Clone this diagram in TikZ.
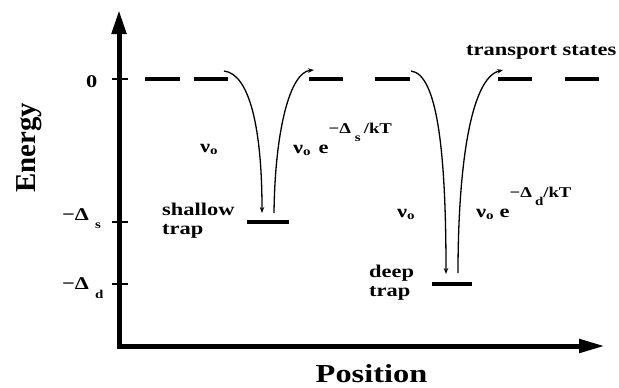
\documentclass[tikz,border=0pt]{standalone}
\usepackage{fontspec}
\setmainfont{Liberation Serif}[FakeStretch=1.25]
\newfontfamily\axisfont{Liberation Serif}
\usetikzlibrary{arrows.meta}
\newcommand{\lowsub}[2]{\raisebox{-#1}{\fontsize{12}{12}\selectfont #2}}
\newcommand{\expo}[1]{\raisebox{20bp}{\fontsize{15}{15}\selectfont #1}}

\begin{document}
\begin{tikzpicture}[x=1bp, y=-1bp,
  lbl/.style={font=\fontsize{18}{19}\selectfont\bfseries, inner sep=0pt},
  axis/.style={line width=5bp, {Triangle[length=24bp,width=14bp]}-{Triangle[length=26bp,width=13bp]}},
  tick/.style={line width=1.5bp},
  lvl/.style={line width=4.5bp},
  hop/.style={-{Stealth[length=6bp,width=4.5bp]}, line width=1.3bp}]
\useasboundingbox (0,0) rectangle (619,387);
\coordinate (ytip) at (119,10); \coordinate (xtip) at (605,346);
\draw[axis] (ytip) |- (xtip);
\foreach \y in {79,222,284} \draw[tick] (112,\y) -- (128,\y);
\foreach \a/\b in {145/180,194/228,309/343,375/410,498/532,565/599} \draw[lvl] (\a,79) -- (\b,79);
\draw[lvl] (247,222) -- (289,222);
\draw[lvl] (432,284) -- (472,284);
\node[lbl, anchor=base west] (zero) at (86,87) {0};
\node[lbl, anchor=base west] (dels) at (62,220) {−Δ\hspace{6bp}\lowsub{8bp}{s}};
\node[lbl, anchor=base west] (deld) at (62,289) {−Δ\hspace{6bp}\lowsub{9bp}{d}};
\node[rotate=90, font=\axisfont\bfseries\fontsize{29}{29}\selectfont, inner sep=0pt] (ylab) at (29,148) {Energy};
\node[font=\fontsize{26}{26}\selectfont\bfseries, inner sep=0pt, anchor=base] (xlab) at (371.5,382) {Position};
\node[lbl, anchor=base west] (trans) at (466,55) {transport states};
\node[lbl, anchor=north west, align=left] (shal) at (162,203) {shallow\\trap};
\node[lbl, anchor=north west, align=left] (deep) at (369,265) {deep\\trap};
\node[lbl, anchor=base west] (nus) at (200,152) {ν\lowsub{2bp}{o}};
\node[lbl, anchor=base west] (nud) at (397,217) {ν\lowsub{2bp}{o}};
\node[lbl, anchor=base west] (rels) at (293,153) {ν\lowsub{2bp}{o}\hspace{8bp}e\expo{−Δ\hspace{4bp}\lowsub{8bp}{s}\hspace{3bp}/kT}};
\node[lbl, anchor=base west] (reld) at (476,217) {ν\lowsub{2bp}{o}\hspace{6bp}e\expo{−Δ\hspace{3bp}\lowsub{8bp}{d}/kT}};
\coordinate (s1) at (224,71); \coordinate (s2) at (262,213);
\coordinate (s3) at (274,213); \coordinate (s4) at (314,70);
\coordinate (d1) at (411,71); \coordinate (d2) at (446,274);
\coordinate (d3) at (458,273); \coordinate (d4) at (503,70);
\draw[hop] (s1) .. controls (250,74) and (262,130) .. (s2);
\draw[hop] (s3) .. controls (275,130) and (290,72) .. (s4);
\draw[hop] (d1) .. controls (437,74) and (446,150) .. (d2);
\draw[hop] (d3) .. controls (458,170) and (470,78) .. (d4);
\end{tikzpicture}
\end{document}
